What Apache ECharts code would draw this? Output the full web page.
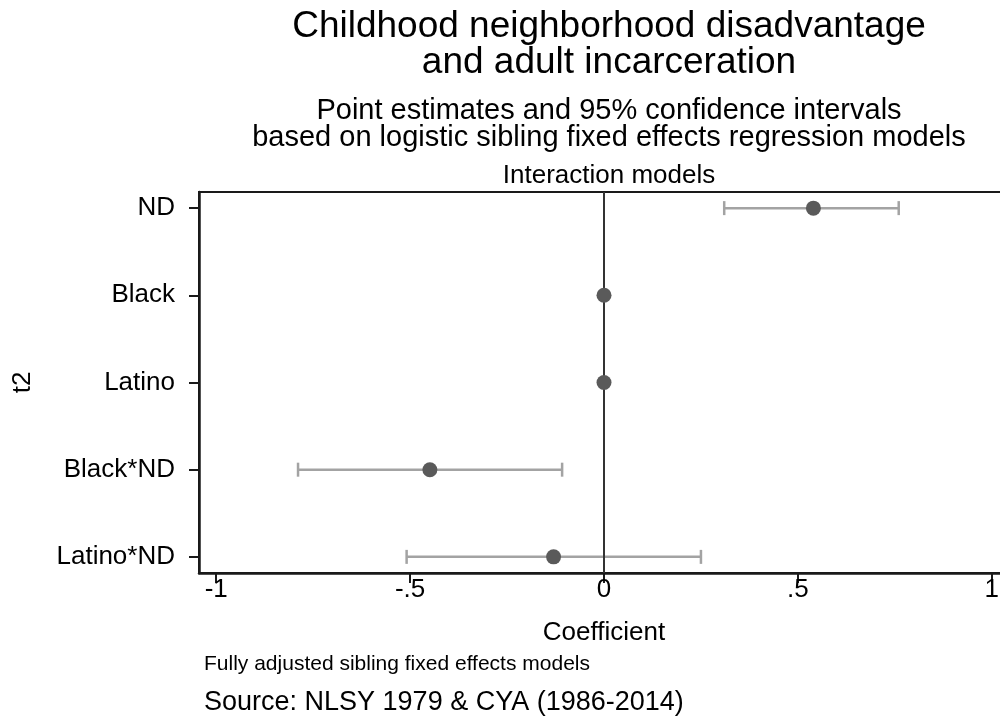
<!DOCTYPE html>
<html><head><meta charset="utf-8">
<script src="https://cdn.jsdelivr.net/npm/echarts@6/dist/echarts.min.js"></script>
<style>html,body{margin:0;padding:0;background:#fff}#c{width:1000px;height:717px}</style>
</head><body><div id="c"></div>
<script>
const categories = ['ND', 'Black', 'Latino', 'Black*ND', 'Latino*ND'];
const estimates = [0.540, 0.000, 0.000, -0.449, -0.130];
const ciLow = [0.310, null, null, -0.789, -0.509];
const ciHigh = [0.760, null, null, -0.108, 0.250];
const xTicks = [-1, -0.5, 0, 0.5, 1];
const xTickLabels = ['-1', '-.5', '0', '.5', '1'];

const FONT = 'Liberation Sans';
const chart = echarts.init(document.getElementById('c'));
const pos = categories.map((c, i) => i + 1);

const ciData = [];
categories.forEach((c, i) => { if (ciLow[i] != null) ciData.push([ciLow[i], ciHigh[i], pos[i]]); });
const ptData = categories.map((c, i) => [estimates[i], pos[i]]);

chart.setOption({
  animation: false,
  backgroundColor: '#fff',
  textStyle: { fontFamily: FONT },
  title: [
    { text: 'Childhood neighborhood disadvantage\nand adult incarceration', left: 604, top: 4, textAlign: 'center',
      textStyle: { fontFamily: FONT, fontSize: 37, fontWeight: 'normal', color: '#000', lineHeight: 36 } },
    { text: 'Point estimates and 95% confidence intervals\nbased on logistic sibling fixed effects regression models', left: 604, top: 92, textAlign: 'center',
      textStyle: { fontFamily: FONT, fontSize: 29, fontWeight: 'normal', color: '#000', lineHeight: 27 } },
    { text: 'Interaction models', left: 604, top: 158, textAlign: 'center',
      textStyle: { fontFamily: FONT, fontSize: 26, fontWeight: 'normal', color: '#000' } }
  ],
  grid: { left: 199, top: 192, width: 810, bottom: 144, outerBoundsMode: 'none', containLabel: false,
    show: true, borderColor: '#1a1a1a', borderWidth: 2, backgroundColor: '#fff' },
  xAxis: {
    type: 'value', min: -1.0444, max: 1.0444,
    axisLine: { show: true, onZero: false, lineStyle: { color: '#1a1a1a', width: 2.5 } },
    axisTick: { show: true, customValues: xTicks, length: 10, lineStyle: { color: '#1a1a1a', width: 2 } },
    axisLabel: { customValues: xTicks, formatter: v => xTickLabels[xTicks.indexOf(v)] ?? '', fontSize: 26, color: '#000', fontFamily: FONT, margin: 4 },
    splitLine: { show: false },
    name: 'Coefficient', nameLocation: 'middle', nameGap: 47,
    nameTextStyle: { fontSize: 26, color: '#000', fontFamily: FONT }
  },
  yAxis: {
    type: 'value', inverse: true, min: 0.815, max: 5.185,
    axisLine: { show: true, onZero: false, lineStyle: { color: '#1a1a1a', width: 2.5 } },
    axisTick: { show: true, customValues: pos, length: 10, lineStyle: { color: '#1a1a1a', width: 2 } },
    axisLabel: { customValues: pos, formatter: v => categories[Math.round(v) - 1] ?? '', fontSize: 26, color: '#000', fontFamily: FONT, margin: 24 },
    splitLine: { show: false },
    name: 't2', nameLocation: 'middle', nameGap: 163, nameRotate: 90,
    nameTextStyle: { fontSize: 26, color: '#000', fontFamily: FONT }
  },
  series: [
    {
      type: 'line', data: [], silent: true,
      markLine: { symbol: 'none', silent: true, label: { show: false },
        lineStyle: { color: '#333', width: 2, type: 'solid' }, data: [{ xAxis: 0 }] }
    },
    {
      type: 'custom', silent: true, z: 3,
      data: ciData,
      renderItem: function (params, api) {
        const a = api.coord([api.value(0), api.value(2)]);
        const b = api.coord([api.value(1), api.value(2)]);
        const h = 7;
        const st = { stroke: '#a3a3a3', lineWidth: 2.5 };
        return { type: 'group', children: [
          { type: 'line', shape: { x1: a[0], y1: a[1], x2: b[0], y2: b[1] }, style: st },
          { type: 'line', shape: { x1: a[0], y1: a[1] - h, x2: a[0], y2: a[1] + h }, style: st },
          { type: 'line', shape: { x1: b[0], y1: b[1] - h, x2: b[0], y2: b[1] + h }, style: st }
        ] };
      }
    },
    {
      type: 'scatter', z: 5, data: ptData, symbolSize: 15,
      itemStyle: { color: '#5a5a5a', opacity: 1 }
    }
  ],
  graphic: [
    { type: 'text', left: 204, top: 654, style: { text: 'Fully adjusted sibling fixed effects models', font: '21px "Liberation Sans"', fill: '#000' } },
    { type: 'text', left: 204, top: 689, style: { text: 'Source: NLSY 1979 & CYA (1986-2014)', font: '27px "Liberation Sans"', fill: '#000' } }
  ]
});
</script></body></html>
